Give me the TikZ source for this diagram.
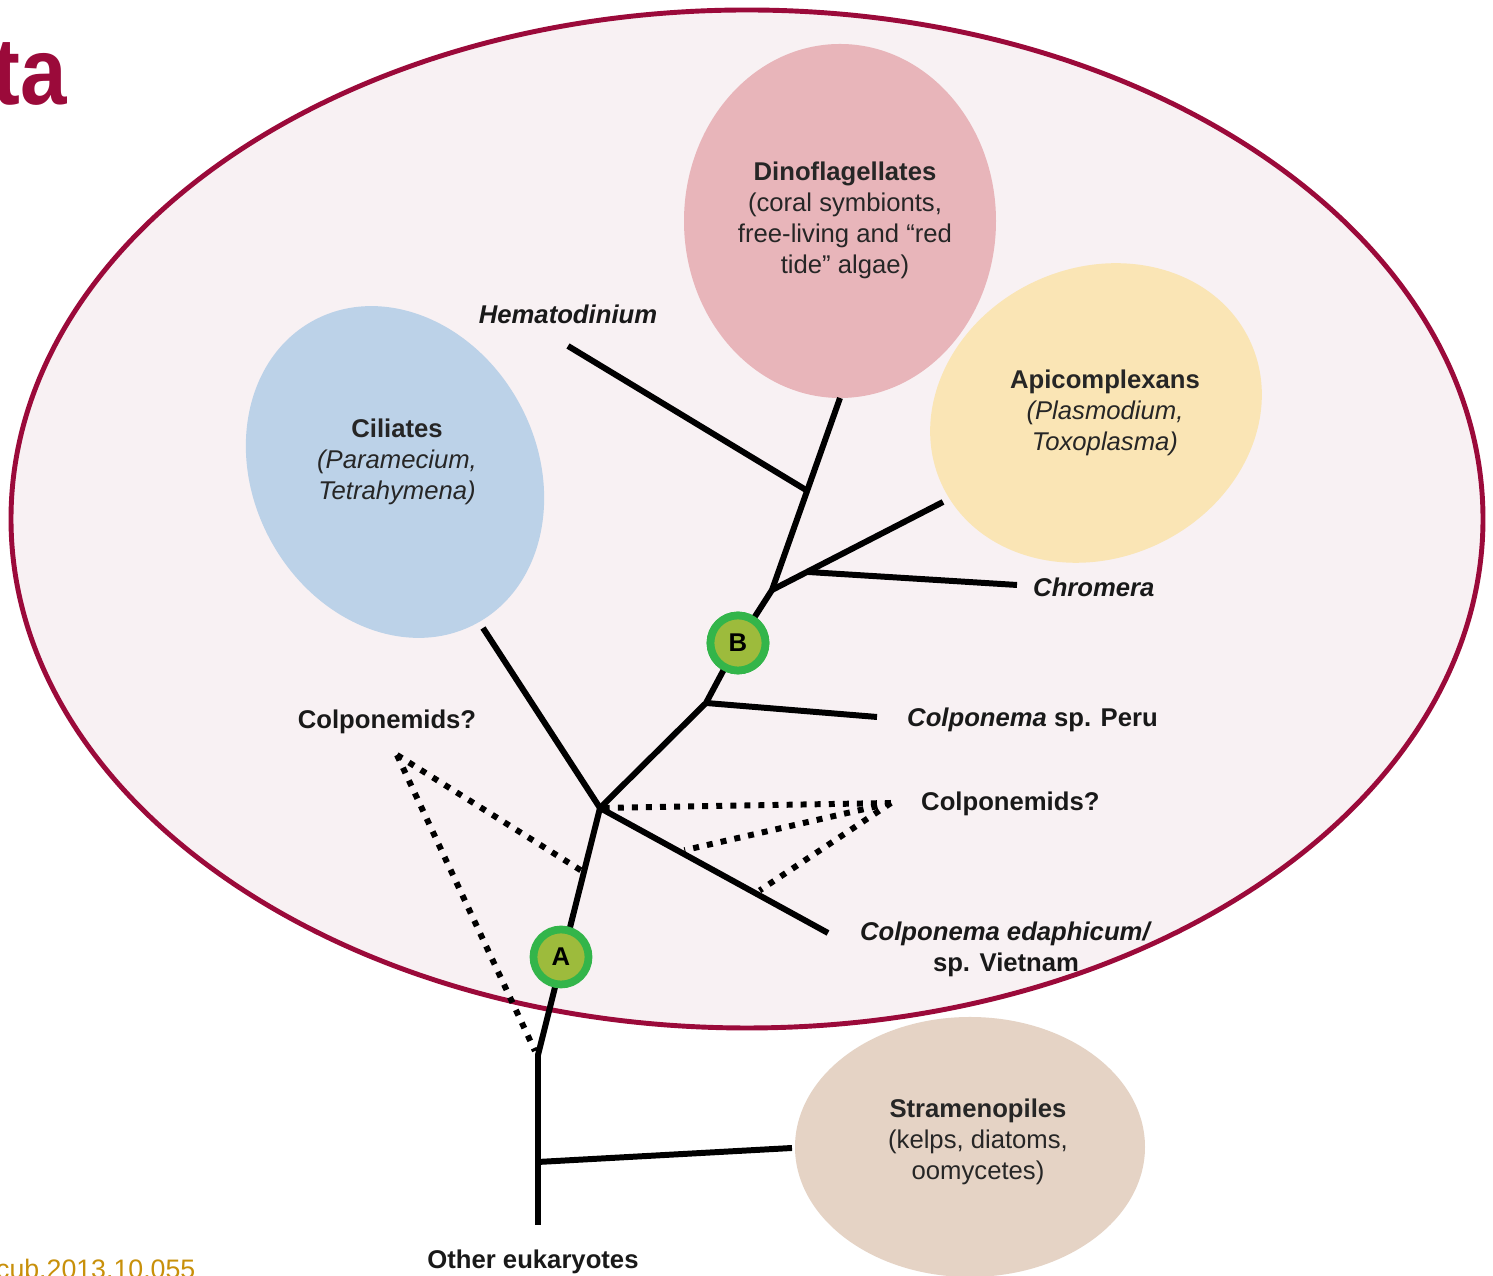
\documentclass[tikz,border=0pt]{standalone}
\usepackage{fontspec}
\setmainfont{Liberation Sans}
\newfontfamily\titlefont[FakeStretch=0.88]{Liberation Sans}
\usetikzlibrary{calc}
\definecolor{maroon}{HTML}{9B0A3A}
\definecolor{veil}{HTML}{F8F1F3}
\definecolor{cilcol}{HTML}{BCD2E8}
\definecolor{dinocol}{HTML}{E8B5BA}
\definecolor{apicol}{HTML}{FAE5B5}
\definecolor{stracol}{HTML}{E5D3C5}
\definecolor{splitring}{HTML}{33B54A}
\definecolor{splitfill}{HTML}{9DBB3C}
\definecolor{doicol}{HTML}{C8900A}
\begin{document}
\begin{tikzpicture}[x=0.01cm,y=0.01cm]
    \tikzstyle{branch}=[line width=1.7pt]
    \tikzstyle{maybe}=[line width=1.7pt,dash pattern=on 1.7pt off 2.3pt]
    \tikzstyle{clade}=[align=center,inner sep=1pt,text=black!85,font=\fontsize{7.3}{8.8}\selectfont]
    \tikzstyle{taxon}=[inner sep=1pt,text=black!90,font=\fontsize{7.3}{8.8}\selectfont\bfseries]
    \tikzstyle{split}=[circle,draw=splitring,fill=splitfill,line width=2.2pt,minimum size=0.55cm,inner sep=0pt,font=\fontsize{7.3}{8.8}\selectfont\bfseries]
    \useasboundingbox (0,0) rectangle (1493,1276);
    \clip (0,0) rectangle (1493,1276);
    \fill[white] (0,0) rectangle (1493,1276);
    \draw[maroon,line width=1.4pt,fill=veil] (747,757) ellipse [x radius=736,y radius=509];
    \fill[cilcol,rotate around={28:(395,804)}] (395,804) ellipse [x radius=142,y radius=172];
    \fill[dinocol] (840,1055) ellipse [x radius=156,y radius=177];
    \fill[apicol,rotate around={25:(1096,863)}] (1096,863) ellipse [x radius=170,y radius=145];
    \fill[stracol] (970,129) ellipse [x radius=175,y radius=130];
    \node[anchor=base east,inner sep=0pt,text=maroon,font=\titlefont\fontsize{27}{27}\selectfont\bfseries] (title) at (68,1171) {Alveolata};
    \node[anchor=base east,inner sep=0pt,text=doicol,font=\fontsize{7.6}{9}\selectfont] (doi) at (196,-3) {j.cub.2013.10.055};
    \coordinate (root) at (538,51);
    \coordinate (sj) at (538,114);
    \coordinate (se) at (792,128);
    \coordinate (kink) at (538,221);
    \coordinate (X) at (600,468);
    \coordinate (ce) at (483,648);
    \coordinate (ee) at (828,343);
    \coordinate (P) at (706,573);
    \coordinate (pe) at (877,559);
    \coordinate (Q) at (772,686);
    \coordinate (H) at (806,786);
    \coordinate (he) at (568,930);
    \coordinate (de) at (840,878);
    \coordinate (C) at (808,704);
    \coordinate (ae) at (943,774);
    \coordinate (che) at (1017,691);
    \coordinate (lp) at (397,521);
    \coordinate (rp) at (891,473);
    \coordinate (la) at ($(kink)!0.74!(X)$);
    \coordinate (lb) at (535,225);
    \coordinate (ra) at ($(X)!0.37!(ee)+(0,4)$);
    \coordinate (rb) at ($(X)!0.70!(ee)+(0,5)$);
    \node[split] (B) at (738,633) {B};
    \draw[branch] (root) -- (kink) -- (X);
    \draw[branch] (sj) -- (se);
    \draw[branch] (X) -- (ce);
    \draw[branch] (X) -- (ee);
    \draw[branch] (X) -- (P) -- (B.center) -- (Q) -- (de);
    \draw[branch] (P) -- (pe);
    \draw[branch] (Q) -- (ae);
    \draw[branch] (C) -- (che);
    \draw[branch] (H) -- (he);
    \draw[maybe] (lp) -- (la);
    \draw[maybe] (lp) -- (lb);
    \draw[maybe] (rp) -- (X);
    \draw[maybe] (rp) -- (ra);
    \draw[maybe] (rp) -- (rb);
    \node[split] (A) at (561,319) {A};
    \node[split] at (B) {B};
    \node[clade] (dino) at (845,1056) {\textbf{Dinoflagellates}\\(coral symbionts,\\free-living and “red\\tide” algae)};
    \node[clade] (api) at (1105,863) {\textbf{Apicomplexans}\\\textit{(Plasmodium,}\\\textit{Toxoplasma)}};
    \node[clade] (cil) at (397,814) {\textbf{Ciliates}\\\textit{(Paramecium,}\\\textit{Tetrahymena)}};
    \node[clade] (stra) at (978,134) {\textbf{Stramenopiles}\\(kelps, diatoms,\\oomycetes)};
    \node[taxon] (hema) at (568,962) {\textit{Hematodinium}};
    \node[taxon,anchor=west] (chro) at (1029,689) {\textit{Chromera}};
    \node[taxon,anchor=west] (peru) at (903,556) {\textit{Colponema} sp. Peru};
    \node[taxon,anchor=west] (colR) at (917,472) {Colponemids?};
    \node[taxon] (colL) at (387,554) {Colponemids?};
    \node[taxon,align=center] (edaph) at (1006,327) {\textit{Colponema edaphicum/}\\sp. Vietnam};
    \node[taxon] (other) at (533,14) {Other eukaryotes};
\end{tikzpicture}
\end{document}
